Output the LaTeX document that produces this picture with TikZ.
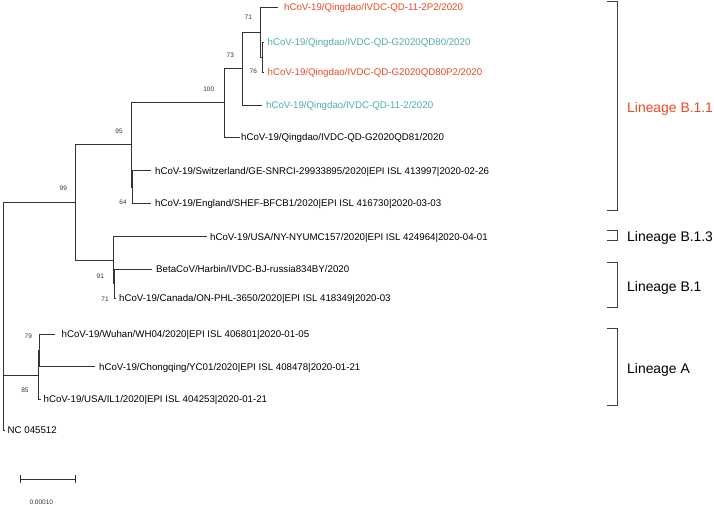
\documentclass[tikz,border=0pt]{standalone}
\usepackage{fontspec}
\setmainfont{Liberation Sans}
\definecolor{qred}{RGB}{232,74,36}
\definecolor{qteal}{RGB}{78,172,170}
\definecolor{treeline}{RGB}{51,51,51}
\begin{document}
\begin{tikzpicture}[x=1pt,y=-1pt,
  branch/.style={draw=treeline,line width=0.9pt},
  leaf/.style={anchor=west,inner ysep=0pt,inner xsep=4pt,text height=0.72em,text depth=0pt,
    font=\fontsize{9.7}{11}\selectfont},
  boot/.style={inner sep=0pt,text=black!80,font=\fontsize{6.5}{7}\selectfont},
  lineage/.style={anchor=west,inner sep=0pt,text height=0.72em,text depth=0pt,
    font=\fontsize{13.9}{16}\selectfont},
  bracket/.style={draw=black!75,line width=1pt}]
\useasboundingbox (0,0) rectangle (714,505);
% internal nodes
\coordinate (R) at (3,202);
\coordinate (n99) at (75.7,202);
\coordinate (n95) at (131,144);
\coordinate (n100) at (224,102);
\coordinate (n73) at (242,68);
\coordinate (n71) at (260.7,32);
\coordinate (n76) at (262,57);
\coordinate (n64) at (132.2,187);
\coordinate (nB) at (113,260);
\coordinate (nS) at (114.2,283.5);
\coordinate (n85) at (38.3,375);
\coordinate (n79) at (39.5,350.5);
% leaves
\node[leaf,text=qred,inner xsep=6pt] (L1) at (278,7) {hCoV-19/Qingdao/IVDC-QD-11-2P2/2020};
\node[leaf,text=qteal] (L2) at (263.5,42) {hCoV-19/Qingdao/IVDC-QD-G2020QD80/2020};
\node[leaf,text=qred] (L3) at (263.5,72) {hCoV-19/Qingdao/IVDC-QD-G2020QD80P2/2020};
\node[leaf,text=qteal] (L4) at (262,105) {hCoV-19/Qingdao/IVDC-QD-11-2/2020};
\node[leaf,inner xsep=1pt] (L5) at (240,137) {hCoV-19/Qingdao/IVDC-QD-G2020QD81/2020};
\node[leaf] (L6) at (151,170.7) {hCoV-19/Switzerland/GE-SNRCI-29933895/2020|EPI ISL 413997|2020-02-26};
\node[leaf] (L7) at (151,203) {hCoV-19/England/SHEF-BFCB1/2020|EPI ISL 416730|2020-03-03};
\node[leaf,inner xsep=3pt] (L8) at (207,236.7) {hCoV-19/USA/NY-NYUMC157/2020|EPI ISL 424964|2020-04-01};
\node[leaf] (L9) at (152,269) {BetaCoV/Harbin/IVDC-BJ-russia834BY/2020};
\node[leaf,inner xsep=3pt] (L10) at (116,298) {hCoV-19/Canada/ON-PHL-3650/2020|EPI ISL 418349|2020-03};
\node[leaf,inner xsep=6.5pt] (L11) at (55,334.3) {hCoV-19/Wuhan/WH04/2020|EPI ISL 406801|2020-01-05};
\node[leaf] (L12) at (95,366.7) {hCoV-19/Chongqing/YC01/2020|EPI ISL 408478|2020-01-21};
\node[leaf,inner xsep=3pt] (L13) at (40.5,399.3) {hCoV-19/USA/IL1/2020|EPI ISL 404253|2020-01-21};
\node[leaf,inner xsep=2.5pt] (L14) at (5,430) {NC 045512};
% branches
\draw[branch] (R) |- (n99);
\draw[branch] (R) |- (n85);
\draw[branch] (R) |- (L14.west);
\draw[branch] (n99) |- (n95);
\draw[branch] (n99) |- (nB);
\draw[branch] (n95) |- (n100);
\draw[branch] (n95) |- (n64);
\draw[branch] (n100) |- (n73);
\draw[branch] (n100) |- (L5.west);
\draw[branch] (n73) |- (n71);
\draw[branch] (n73) |- (L4.west);
\draw[branch] (n71) |- (L1.west);
\draw[branch] (n71) |- (n76);
\draw[branch] (n76) |- (L2.west);
\draw[branch] (n76) |- (L3.west);
\draw[branch] (n64) |- (L6.west);
\draw[branch] (n64) |- (L7.west);
\draw[branch] (nB) |- (L8.west);
\draw[branch] (nB) |- (nS);
\draw[branch] (nS) |- (L9.west);
\draw[branch] (nS) |- (L10.west);
\draw[branch] (n85) |- (n79);
\draw[branch] (n85) |- (L13.west);
\draw[branch] (n79) |- (L11.west);
\draw[branch] (n79) |- (L12.west);
% bootstrap values
\node[boot] (b99) at (63.3,188.3) {99};
\node[boot] (b95) at (119,131) {95};
\node[boot] (b100) at (208.7,89) {100};
\node[boot] (b73) at (230.3,55) {73};
\node[boot] (b71a) at (248.3,17.3) {71};
\node[boot] (b76) at (253.3,71.7) {76};
\node[boot] (b64) at (123,202.3) {64};
\node[boot] (b91) at (100.3,276) {91};
\node[boot] (b71b) at (105,299) {71};
\node[boot] (b79) at (28.3,336) {79};
\node[boot] (b85) at (25,390) {85};
% scale bar
\coordinate (sbL) at (20,479);
\coordinate (sbR) at (75,479);
\draw[branch] (sbL) -- (sbR);
\draw[branch] ([yshift=-4pt]sbL) -- ([yshift=4pt]sbL);
\draw[branch] ([yshift=-4pt]sbR) -- ([yshift=4pt]sbR);
\node[boot] (sblab) at (41.3,502.5) {0.00010};
% lineage brackets
\draw[bracket] (607,1.7) -- (617,1.7) -- (617,210) -- (607,210);
\node[lineage,text=qred] (LB11) at (627,109.3) {Lineage B.1.1};
\draw[bracket] (607,230) -- (617,230) -- (617,240) -- (607,240);
\node[lineage] (LB13) at (627,238) {Lineage B.1.3};
\draw[bracket] (607,262.7) -- (617,262.7) -- (617,307.7) -- (607,307.7);
\node[lineage] (LB1) at (627,288) {Lineage B.1};
\draw[bracket] (607,328) -- (617,328) -- (617,405.7) -- (607,405.7);
\node[lineage] (LA) at (627,370) {Lineage A};
\end{tikzpicture}
\end{document}
